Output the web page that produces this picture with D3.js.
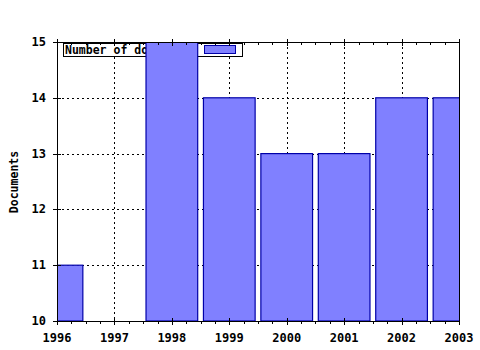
<!DOCTYPE html>
<html><head><meta charset="utf-8">
<script src="https://cdn.jsdelivr.net/npm/d3@7"></script>
<style>body{margin:0;background:#fff}text{font-family:"DejaVu Sans Mono",monospace;font-weight:bold}</style>
</head><body>
<script>
const years = [1996, 1997, 1998, 1999, 2000, 2001, 2002, 2003];
const documents = [11, null, 15, 14, 13, 13, 14, 14];
const yTicks = [10, 11, 12, 13, 14, 15];
const seriesName = "Number of documents";
const yTitle = "Documents";

const W = 480, H = 350;
const L = 57, R = 459, T = 42, B = 321;
const svg = d3.select("body").append("svg").attr("width", W).attr("height", H);
const x = d3.scaleLinear().domain([1996, 2003]).range([L, R]);
const y = d3.scaleLinear().domain([10, 15]).range([B, T]);
const step = x(1997) - x(1996);
const bw = step * 0.9;

svg.append("clipPath").attr("id", "clip").append("rect")
  .attr("x", L).attr("y", T).attr("width", R - L).attr("height", B - T);

// grid
const g = svg.append("g").attr("stroke", "#000").attr("stroke-dasharray", "2,3").attr("stroke-width", 1);
years.forEach(v => g.append("line").attr("x1", Math.round(x(v)) + 0.5).attr("x2", Math.round(x(v)) + 0.5).attr("y1", T).attr("y2", B));
yTicks.forEach(v => g.append("line").attr("y1", Math.round(y(v)) + 0.5).attr("y2", Math.round(y(v)) + 0.5).attr("x1", L).attr("x2", R));

// legend
const lg = svg.append("g");
lg.append("rect").attr("x", 63.5).attr("y", 43.5).attr("width", 179).attr("height", 13).attr("fill", "#fff").attr("stroke", "#000");
lg.append("text").attr("x", 65).attr("y", 54).attr("font-size", 11.5).text(seriesName);
lg.append("rect").attr("x", 204.5).attr("y", 45.5).attr("width", 31).attr("height", 8).attr("fill", "#8080ff").attr("stroke", "#0000a8");

// bars
svg.append("g").attr("clip-path", "url(#clip)").selectAll("rect")
  .data(years.map((yr, i) => ({yr, v: documents[i]})).filter(d => d.v != null))
  .join("rect")
  .attr("x", d => x(d.yr) - bw / 2).attr("width", bw)
  .attr("y", d => y(d.v)).attr("height", d => y(10) - y(d.v))
  .attr("fill", "#8080ff").attr("stroke", "#0000a8").attr("stroke-width", 1.2);

// frame
const f = svg.append("g").attr("stroke", "#000").attr("stroke-width", 1).attr("fill", "none");
f.append("rect").attr("x", L + 0.5).attr("y", T + 0.5).attr("width", R - L - 1).attr("height", B - T).attr("stroke-width", 0);
f.append("line").attr("x1", L).attr("x2", R + 0.5).attr("y1", T + 0.5).attr("y2", T + 0.5);
f.append("line").attr("x1", L).attr("x2", R + 0.5).attr("y1", B + 0.5).attr("y2", B + 0.5);
f.append("line").attr("x1", L + 0.5).attr("x2", L + 0.5).attr("y1", T).attr("y2", B + 1);
f.append("line").attr("x1", R + 0.5).attr("x2", R + 0.5).attr("y1", T).attr("y2", B + 1);

// x ticks: major and minor
for (let i = 0; i < years.length; i++) {
  const xv = Math.round(x(years[i])) + 0.5;
  f.append("line").attr("x1", xv).attr("x2", xv).attr("y1", B - 3).attr("y2", B + 4);
  f.append("line").attr("x1", xv).attr("x2", xv).attr("y1", T - 3).attr("y2", T + 4);
  if (i < years.length - 1) {
    for (let k = 1; k < 4; k++) {
      const mv = Math.round(x(years[i] + k / 4)) + 0.5;
      f.append("line").attr("x1", mv).attr("x2", mv).attr("y1", B).attr("y2", B + 3);
      f.append("line").attr("x1", mv).attr("x2", mv).attr("y1", T).attr("y2", T + 3);
    }
  }
}
// y ticks
yTicks.forEach(v => {
  const yv = Math.round(y(v)) + 0.5;
  f.append("line").attr("x1", L - 4).attr("x2", L + 4).attr("y1", yv).attr("y2", yv);
});

// labels
svg.append("g").selectAll("text").data(years).join("text")
  .attr("x", d => x(d)).attr("y", 342).attr("text-anchor", "middle").attr("font-size", 12).text(d => d);
svg.append("g").selectAll("text").data(yTicks).join("text")
  .attr("x", 46).attr("y", d => y(d) + 4).attr("text-anchor", "end").attr("font-size", 12).text(d => d);
svg.append("text").attr("transform", "translate(18,182) rotate(-90)").attr("text-anchor", "middle")
  .attr("font-size", 11.5).text(yTitle);
</script>
</body></html>
